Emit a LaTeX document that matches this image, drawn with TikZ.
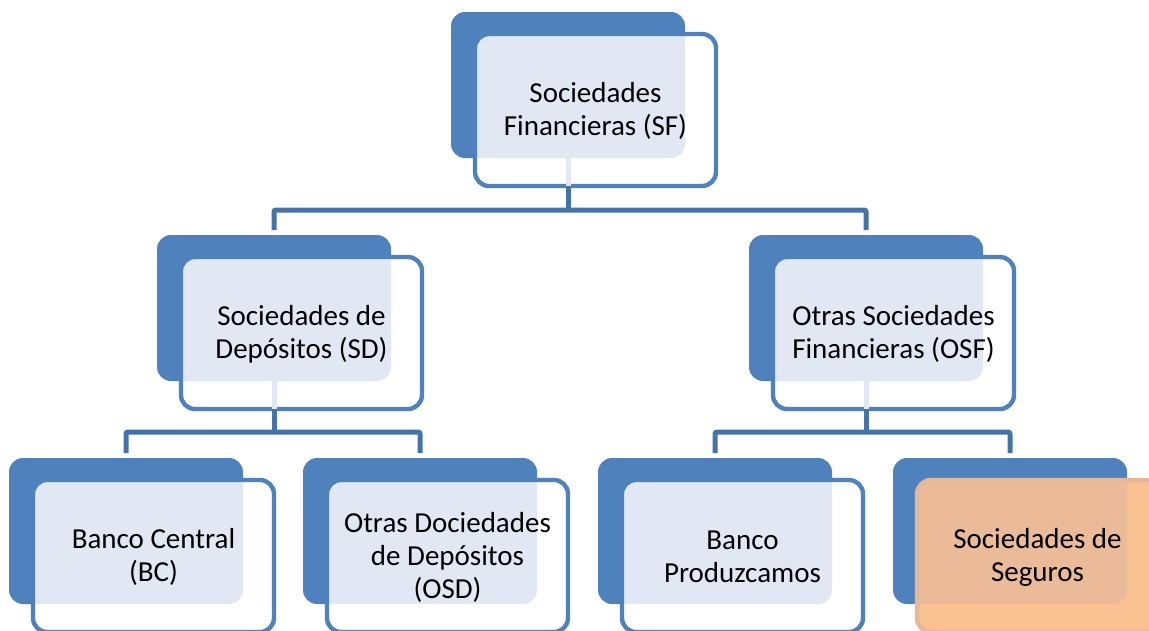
\documentclass[tikz,border=0pt]{standalone}
\usepackage{fontspec}
\setmainfont{Carlito}
\definecolor{unitblue}{HTML}{4F81BD}
\definecolor{linkblue}{HTML}{4672AA}
\definecolor{dotblue}{HTML}{E1E8F3}
\definecolor{segorange}{HTML}{FAC193}
\definecolor{segdot}{HTML}{EBBA99}
\tikzset{
  unitback/.style={fill=unitblue, rounded corners=14pt},
  unitfront/.style={line width=4.4pt, rounded corners=14pt},
  unittext/.style={align=center, inner sep=0pt, font=\fontsize{29}{33}\selectfont},
  link/.style={draw=linkblue, line width=5pt, rounded corners=2pt},
}
% back card, front card, shaded overlap, text and the two link points
\newcommand{\orgunit}[7][unitblue]{%
  \fill[unitback] (#3,#4) rectangle ++(234,146);
  \fill[#6, rounded corners=14pt] (#3+24,#4+22) rectangle ++(241,152);
  \begin{scope}
    \clip[rounded corners=12pt] (#3+26,#4+24) rectangle ++(237,148);
    \fill[#7, rounded corners=14pt] (#3,#4) rectangle ++(234,146);
  \end{scope}
  \draw[unitfront, draw=#1] (#3+24,#4+22) rectangle ++(241,152);
  \node[unittext] (#2) at (#3+144.5,#4+99) {#5};
  \coordinate (#2-in) at (#3+117,#4-5);
  \coordinate (#2-out) at (#3+117,#4+174);
  \coordinate (#2-mid) at (#3+117,#4+146);
}
\begin{document}
\begin{tikzpicture}[x=1pt, y=-1pt]
\useasboundingbox (0,0) rectangle (1149,630);

\orgunit{sf}{451}{12}{Sociedades\\Financieras (SF)}{white}{dotblue}
\orgunit{sd}{157}{235}{Sociedades de\\Depósitos (SD)}{white}{dotblue}
\orgunit{osf}{749}{235}{Otras Sociedades\\Financieras (OSF)}{white}{dotblue}
\orgunit{bc}{9}{458}{Banco Central\\(BC)}{white}{dotblue}
\orgunit{osd}{303}{458}{Otras Dociedades\\de Depósitos\\(OSD)}{white}{dotblue}
\orgunit{bp}{598}{458}{Banco\\Produzcamos}{white}{dotblue}
\orgunit[segorange!88!unitblue]{ss}{893}{458}{Sociedades de\\Seguros}{segorange}{segdot}

% links
\foreach \up in {sf,sd,osf}
  \draw[dotblue, line width=5pt] (\up-mid) -- (\up-out);
\draw[link] (sf-out) -- ++(0,24) coordinate (sf-bus);
\draw[link] (sd-in) |- (sf-bus) -| (osf-in);
\draw[link] (sd-out) -- ++(0,23) coordinate (sd-bus);
\draw[link] (bc-in) |- (sd-bus) -| (osd-in);
\draw[link] (osf-out) -- ++(0,23) coordinate (osf-bus);
\draw[link] (bp-in) |- (osf-bus) -| (ss-in);
\end{tikzpicture}
\end{document}
